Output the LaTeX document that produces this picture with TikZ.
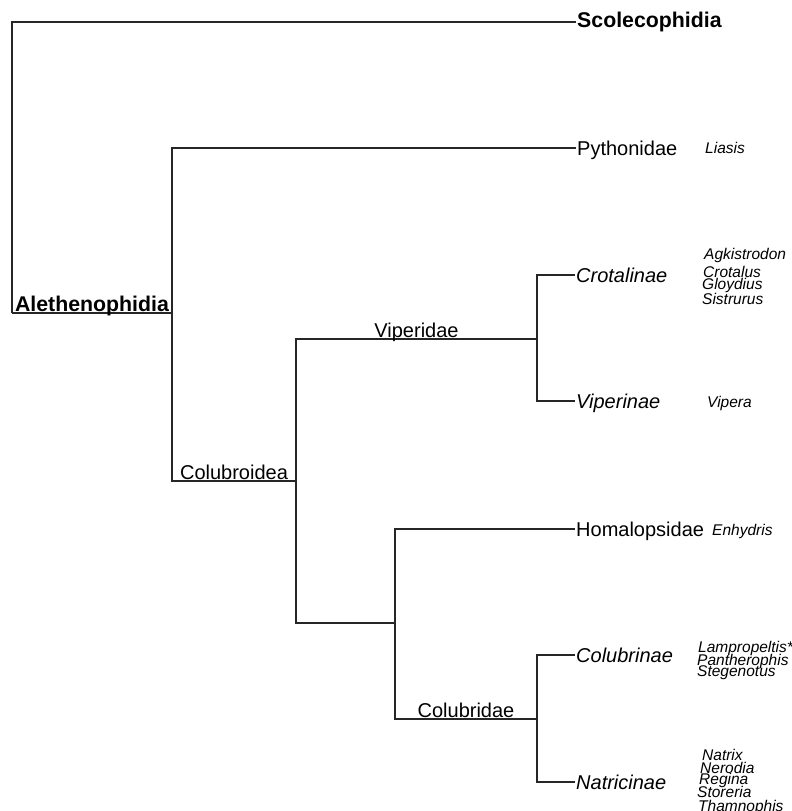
\documentclass[tikz,border=0pt]{standalone}
\usepackage{fontspec}
\setmainfont{Liberation Sans}

\tikzset{
    branch/.style={line width=1.2pt, black!85},
    taxon/.style={anchor=west, inner sep=1pt, text height=14pt, text depth=0pt, text=black, font=\fontsize{20}{22}\selectfont},
    subfam/.style={taxon, font=\fontsize{20}{22}\selectfont\itshape},
    group/.style={taxon, text height=10.6pt, font=\fontsize{21.3}{24}\selectfont\bfseries},
    clade/.style={anchor=base, inner sep=0pt, yshift=2pt, text=black, font=\fontsize{20}{22}\selectfont},
    genus/.style={anchor=base west, inner sep=0pt, text=black, font=\fontsize{15.5}{17}\selectfont\itshape}
}

\begin{document}
\begin{tikzpicture}[x=1pt, y=-1pt]
            \useasboundingbox (0, 0) rectangle (792, 811);

            \coordinate (root) at (12, 313);
            \coordinate (aleth) at (172, 313);
            \coordinate (colubroid) at (296, 481);
            \coordinate (viper) at (537, 339);
            \coordinate (homcol) at (395, 623);
            \coordinate (colubrid) at (537, 719);

            \node[group] (scol) at (576, 22) {Scolecophidia};
            \node[taxon] (python) at (576, 148) {Pythonidae};
            \node[subfam] (crot) at (575, 275) {Crotalinae};
            \node[subfam] (vipin) at (575, 401) {Viperinae};
            \node[taxon] (homal) at (575, 529) {Homalopsidae};
            \node[subfam] (colin) at (575, 655) {Colubrinae};
            \node[subfam] (natin) at (575, 782) {Natricinae};

            \node[genus] (liasis) at (705, 153) {Liasis};
            \node[genus] (agkis) at (704, 259) {Agkistrodon};
            \node[genus] (crotal) at (703, 277) {Crotalus};
            \node[genus] (gloyd) at (702, 289.5) {Gloydius};
            \node[genus] (sistr) at (702, 304) {Sistrurus};
            \node[genus] (vipera) at (707, 407) {Vipera};
            \node[genus] (enhyd) at (712, 535) {Enhydris};
            \node[genus] (lampro) at (698, 652) {Lampropeltis*};
            \node[genus] (panth) at (697, 665) {Pantherophis};
            \node[genus] (stegen) at (697, 676) {Stegenotus};
            \node[genus] (natrix) at (702, 760) {Natrix};
            \node[genus] (nerod) at (700, 773) {Nerodia};
            \node[genus] (regina) at (699, 784.5) {Regina};
            \node[genus] (storer) at (697, 797) {Storeria};
            \node[genus] (thamn) at (698, 811) {Thamnophis};

            \draw[branch] (root) |- (scol.west);
            \draw[branch] (root) -- node[clade, yshift=-0.4pt, font=\fontsize{21.3}{24}\selectfont\bfseries] (alethlbl) {Alethenophidia} (aleth);
            \draw[branch] (aleth) |- (python.west);
            \draw[branch] (aleth) |- node[clade, pos=0.75] (colubroidlbl) {Colubroidea} (colubroid);
            \draw[branch] (colubroid) |- node[clade, pos=0.75] (viperlbl) {Viperidae} (viper);
            \draw[branch] (colubroid) |- (homcol);
            \draw[branch] (viper) |- (crot.west);
            \draw[branch] (viper) |- (vipin.west);
            \draw[branch] (homcol) |- (homal.west);
            \draw[branch] (homcol) |- node[clade, pos=0.75] (colubridlbl) {Colubridae} (colubrid);
            \draw[branch] (colubrid) |- (colin.west);
            \draw[branch] (colubrid) |- (natin.west);
        \end{tikzpicture}
\end{document}
